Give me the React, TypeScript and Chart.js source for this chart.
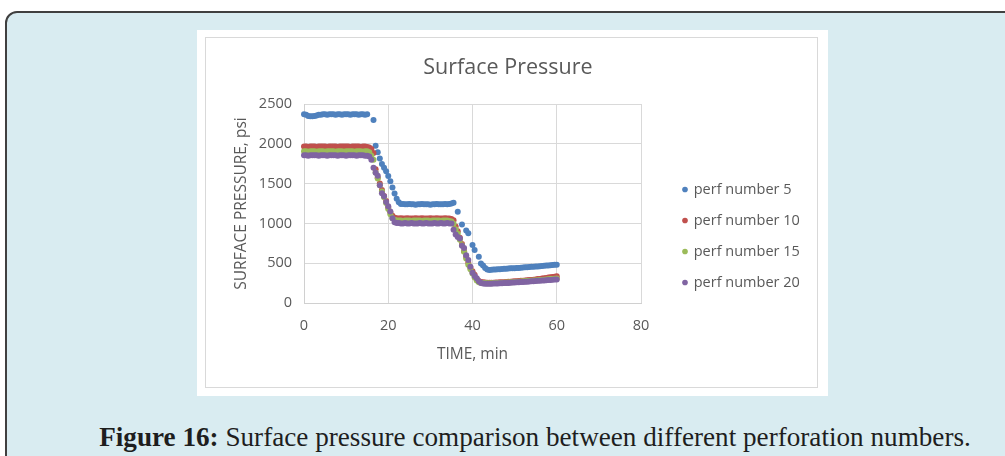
import React, { useEffect, useRef } from 'react';
import { Chart, registerables } from 'chart.js';
Chart.register(...registerables);

const TIME = [
  0, 0.5, 1, 1.5, 2, 2.5, 3, 3.5, 4, 4.5, 5, 5.5, 6, 6.5, 7, 7.5, 8, 8.5, 9, 9.5,
  10, 10.5, 11, 11.5, 12, 12.5, 13, 13.5, 14, 14.5, 15, 15.5, 16, 16.5, 17, 17.5, 18, 18.5, 19, 19.5,
  20, 20.5, 21, 21.5, 22, 22.5, 23, 23.5, 24, 24.5, 25, 25.5, 26, 26.5, 27, 27.5, 28, 28.5, 29, 29.5,
  30, 30.5, 31, 31.5, 32, 32.5, 33, 33.5, 34, 34.5, 35, 35.5, 36, 36.5, 37, 37.5, 38, 38.5, 39, 39.5,
  40, 40.5, 41, 41.5, 42, 42.5, 43, 43.5, 44, 44.5, 45, 45.5, 46, 46.5, 47, 47.5, 48, 48.5, 49, 49.5,
  50, 50.5, 51, 51.5, 52, 52.5, 53, 53.5, 54, 54.5, 55, 55.5, 56, 56.5, 57, 57.5, 58, 58.5, 59, 59.5,
  60,
];

const PERF5 = [
  2370, 2365, 2350, 2345, 2345, 2350, 2355, 2365, 2365, 2370,
  2370, 2365, 2370, 2370, 2370, 2365, 2370, 2370, 2365, 2370,
  2370, 2370, 2365, 2370, 2370, 2370, 2365, 2370, 2370, 2365,
  2370, null, null, 2300, 1975, 1895, 1815, 1745, 1700, 1655,
  1595, 1530, 1450, 1375, 1310, 1265, 1245, 1245, 1240, 1240,
  1245, 1240, 1240, 1235, 1240, 1240, 1245, 1240, 1240, 1240,
  1235, 1240, 1240, 1245, 1240, 1240, 1240, 1245, 1240, 1245,
  1250, 1260, null, 1145, null, 985, null, 910, 875, null,
  730, 665, null, 580, 495, 470, 440, 420, 415, 418,
  420, 420, 425, 425, 428, 430, 430, 432, 435, 435,
  438, 440, 440, 443, 445, 448, 450, 452, 455, 455,
  458, 460, 462, 465, 468, 470, 472, 475, 478, 480,
  480,
];

const PERF10 = [
  1965, 1965, 1960, 1965, 1965, 1965, 1960, 1965, 1965, 1965,
  1965, 1960, 1965, 1965, 1965, 1965, 1960, 1965, 1965, 1965,
  1965, 1965, 1960, 1965, 1965, 1965, 1965, 1960, 1965, 1965,
  1960, 1955, 1935, 1885, 1680, 1575, 1500, 1420, 1345, 1280,
  1200, 1140, 1095, 1070, 1065, 1060, 1065, 1060, 1060, 1065,
  1060, 1060, 1060, 1065, 1060, 1060, 1065, 1060, 1060, 1060,
  1065, 1060, 1060, 1065, 1060, 1060, 1060, 1065, 1060, 1060,
  1055, 1040, 960, 900, 820, 740, 650, 580, 505, 445,
  400, 355, 305, 275, 265, 260, 258, 255, 255, 255,
  255, 258, 258, 260, 260, 262, 265, 266, 268, 270,
  272, 274, 276, 278, 280, 283, 285, 288, 290, 293,
  296, 300, 303, 307, 311, 315, 319, 323, 327, 331,
  335,
];

const PERF15 = [
  1905, 1905, 1900, 1905, 1905, 1905, 1900, 1905, 1905, 1905,
  1900, 1905, 1905, 1905, 1905, 1900, 1905, 1905, 1905, 1900,
  1905, 1905, 1905, 1905, 1900, 1905, 1905, 1905, 1900, 1905,
  1905, 1895, 1850, 1800, 1640, 1565, 1480, 1400, 1330, 1255,
  1180, 1115, 1065, 1045, 1035, 1035, 1035, 1030, 1035, 1035,
  1035, 1030, 1035, 1035, 1035, 1035, 1030, 1035, 1035, 1035,
  1030, 1035, 1035, 1035, 1035, 1030, 1035, 1035, 1035, 1030,
  1025, 995, 925, 870, 795, 725, 645, 560, 480, 425,
  370, 320, 282, 262, 255, 252, 250, 248, 248, 248,
  250, 250, 252, 252, 254, 255, 256, 258, 260, 262,
  264, 266, 268, 270, 272, 274, 276, 278, 280, 282,
  284, 286, 288, 290, 292, 295, 298, 300, 302, 305,
  308,
];

const PERF20 = [
  1855, 1855, 1850, 1855, 1855, 1855, 1855, 1850, 1855, 1855,
  1855, 1850, 1855, 1855, 1855, 1855, 1850, 1855, 1855, 1855,
  1850, 1855, 1855, 1855, 1855, 1850, 1855, 1855, 1855, 1850,
  1850, 1840, 1800, 1700, 1635, 1600, 1480, 1380, 1340, 1270,
  1215, 1150, 1065, 1015, 1005, 1005, 1000, 1000, 1005, 1000,
  1000, 1005, 1000, 1000, 1000, 1005, 1000, 1000, 1005, 1000,
  1000, 1000, 1005, 1000, 1000, 1005, 1000, 1000, 1005, 1000,
  1000, 920, 860, 830, 810, 720, 690, 600, 540, 455,
  380, 340, 310, 272, 250, 245, 243, 242, 242, 243,
  244, 245, 246, 247, 248, 250, 251, 252, 254, 256,
  258, 260, 261, 263, 265, 267, 268, 270, 272, 274,
  276, 278, 280, 282, 284, 286, 288, 290, 292, 294,
  296,
];

const LABELS = ['perf number 5', 'perf number 10', 'perf number 15', 'perf number 20'];
const COLORS = ['#4F81BD', '#C0504D', '#9BBB59', '#8064A2'];
const X_TICKS = [0, 20, 40, 60, 80];
const Y_TICKS = [0, 500, 1000, 1500, 2000, 2500];

const FONT = "'Open Sans', sans-serif";
const TEXT = '#595959';
const GRID = '#d9d9d9';

export default function App() {
  const ref = useRef<HTMLCanvasElement>(null);

  useEffect(() => {
    const canvas = ref.current;
    if (!canvas) return;
    const legendFont = 14.5;
    const legendPad = 16.5;
    const boxW = 3;
    const mctx = canvas.getContext('2d')!;
    mctx.font = `${legendFont}px ${FONT}`;
    const maxText = Math.max(...LABELS.map((l) => mctx.measureText(l).width));
    const legendW = legendPad + boxW + legendFont / 2 + maxText + 10;
    const plotRight = 435;
    const legendLeft = 461;
    const gapW = legendLeft - plotRight;
    const padRight = Math.max(0, 611 - legendLeft - legendW);

    const series = [PERF5, PERF10, PERF15, PERF20];
    const datasets = series.map((vals, k) => ({
      label: LABELS[k],
      data: TIME.map((t, i) => ({ x: t, y: vals[i] })).filter((p) => p.y !== null),
      backgroundColor: COLORS[k],
      borderColor: COLORS[k],
      pointRadius: 3,
      pointHoverRadius: 3,
      pointBorderWidth: 0,
      pointStyle: 'circle',
      showLine: false,
      order: 4 - k,
      clip: false,
    }));

    const chart = new Chart(canvas, {
      type: 'scatter',
      data: { datasets } as any,
      options: {
        responsive: false,
        animation: false,
        devicePixelRatio: 1,
        layout: { padding: { left: 0, top: 0, bottom: 0, right: padRight } },
        plugins: {
          title: {
            display: true,
            text: 'Surface Pressure',
            color: TEXT,
            font: { family: FONT, size: 21.5, weight: 'normal' },
            padding: { top: 17.1, bottom: 23.1 },
          },
          legend: {
            position: 'right',
            align: 'center',
            maxWidth: 400,
            title: { display: true, text: '', font: { size: 12 }, padding: { top: 0, bottom: 32.6 } },
            labels: {
              usePointStyle: true,
              pointStyle: 'circle',
              boxWidth: boxW,
              boxHeight: 4,
              padding: legendPad,
              color: TEXT,
              font: { family: FONT, size: legendFont },
              sort: (a: any, b: any) => a.datasetIndex - b.datasetIndex,
            },
          },
          tooltip: { enabled: false },
        },
        scales: {
          x: {
            type: 'linear',
            position: 'bottom',
            min: 0,
            max: 80,
            afterBuildTicks: (s: any) => {
              s.ticks = X_TICKS.map((v) => ({ value: v }));
            },
            afterFit: (s: any) => {
              s.height = 84;
            },
            grid: { color: GRID, lineWidth: 1, drawTicks: false },
            border: { color: '#d0d0d0' },
            ticks: {
              padding: 14.3,
              color: TEXT,
              font: { family: FONT, size: 14.5 },
              callback: (v: any) => String(v),
            },
            title: {
              display: true,
              text: 'TIME, min',
              color: TEXT,
              font: { family: FONT, size: 15.5 },
              padding: { top: 0, bottom: 23 },
            },
          },
          y: {
            type: 'linear',
            position: 'left',
            min: 0,
            max: 2500,
            afterBuildTicks: (s: any) => {
              s.ticks = Y_TICKS.map((v) => ({ value: v }));
            },
            afterFit: (s: any) => {
              s.width = 98;
            },
            grid: { color: GRID, lineWidth: 1, drawTicks: false },
            border: { color: '#d0d0d0' },
            ticks: {
              padding: 12,
              color: TEXT,
              font: { family: FONT, size: 14.5 },
              callback: (v: any) => String(v),
            },
            title: {
              display: true,
              text: 'SURFACE PRESSURE, psi',
              color: TEXT,
              font: { family: FONT, size: 15.5 },
              padding: { top: 26, bottom: 0 },
            },
          },
          gap: {
            type: 'linear',
            position: 'right',
            display: true,
            grid: { display: false, drawTicks: false },
            border: { display: false },
            ticks: { display: false },
            afterFit: (s: any) => {
              s.width = gapW;
            },
          },
        },
      } as any,
    });
    return () => chart.destroy();
  }, []);

  return (
    <div
      style={{
        position: 'absolute',
        left: 0,
        top: 0,
        width: 1005,
        height: 456,
        overflow: 'hidden',
        background: '#ffffff',
      }}
    >
      <div
        style={{
          position: 'absolute',
          left: 5,
          top: 11,
          width: 1200,
          height: 600,
          boxSizing: 'border-box',
          border: '2px solid #404040',
          borderTopLeftRadius: 12,
          background: '#d9ecf1',
        }}
      />
      <div
        style={{
          position: 'absolute',
          left: 197,
          top: 30,
          width: 631,
          height: 366,
          background: '#ffffff',
        }}
      />
      <div
        style={{
          position: 'absolute',
          left: 205,
          top: 37,
          width: 613,
          height: 351,
          boxSizing: 'border-box',
          border: '1px solid #d9d9d9',
        }}
      />
      <canvas
        ref={ref}
        width={611}
        height={349}
        style={{ position: 'absolute', left: 206, top: 38, width: 611, height: 349, display: 'block' }}
      />
      <div
        style={{
          position: 'absolute',
          left: 35,
          width: 1000,
          top: 422,
          textAlign: 'center',
          fontFamily: "'Liberation Serif', serif",
          fontSize: 28,
          lineHeight: '30px',
          color: '#1e1e1e',
          whiteSpace: 'nowrap',
          transform: 'scaleX(0.97)',
          transformOrigin: '500px 0',
        }}
      >
        <b>Figure 16:</b> Surface pressure comparison between different perforation numbers.
      </div>
    </div>
  );
}
